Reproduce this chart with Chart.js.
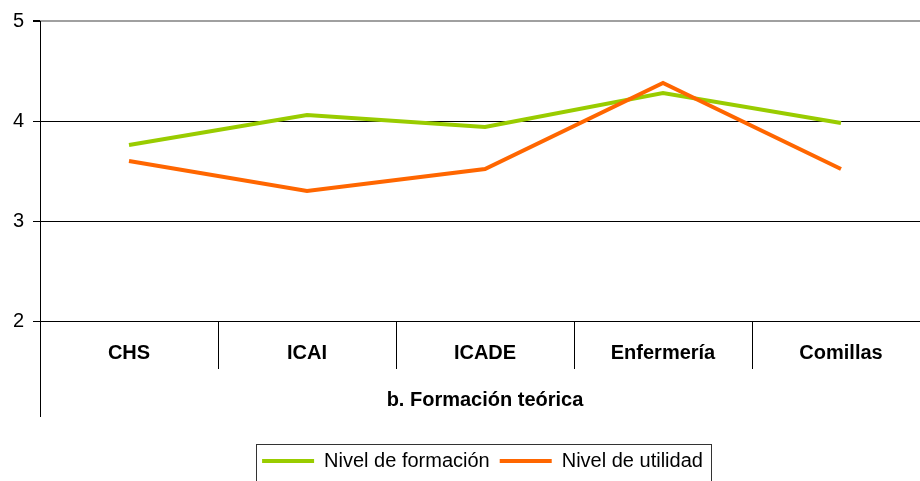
<!DOCTYPE html>
<html>
<head>
<meta charset="utf-8">
<script src="https://cdn.jsdelivr.net/npm/chart.js@4"></script>
<style>
  html, body { margin: 0; padding: 0; background: #fff; overflow: hidden; }
  #wrap { width: 965px; height: 481px; }
</style>
</head>
<body>
<div id="wrap"><canvas id="lineChart" width="965" height="481"></canvas></div>
<script>
// Datos
const categorias = ['CHS', 'ICAI', 'ICADE', 'Enfermería', 'Comillas'];
const nivelFormacion = [3.76, 4.06, 3.94, 4.28, 3.98];
const nivelUtilidad = [3.60, 3.30, 3.52, 4.38, 3.52];
const ticksY = [2, 3, 4, 5];
const tituloEjeX = 'b. Formación teórica';

// lineas extra: eje izquierdo alargado y marco de la leyenda
const extrasPlugin = {
  id: 'extras',
  afterDraw(chart) {
    const ctx = chart.ctx;
    const area = chart.chartArea;
    ctx.save();
    ctx.strokeStyle = '#000';
    ctx.lineWidth = 1;
    ctx.beginPath();
    ctx.moveTo(area.left + 0.5, area.top);
    ctx.lineTo(area.left + 0.5, 417);
    ctx.stroke();

    const boxes = chart.legend.legendHitBoxes;
    if (boxes && boxes.length) {
      const first = boxes[0];
      const last = boxes[boxes.length - 1];
      const left = Math.round(first.left - 6) + 0.5;
      const right = Math.round(last.left + last.width + 8) + 0.5;
      const top = Math.round(first.top - 7) + 0.5;
      ctx.strokeStyle = '#333';
      ctx.strokeRect(left, top, right - left, 60);
    }
    ctx.restore();
  }
};

const ctx = document.getElementById('lineChart').getContext('2d');
const myLineChart = new Chart(ctx, {
  type: 'line',
  data: {
    labels: categorias,
    datasets: [{
      label: 'Nivel de formación',
      data: nivelFormacion,
      borderColor: '#99cc00',
      backgroundColor: '#99cc00',
      borderWidth: 4,
      pointRadius: 0,
      tension: 0,
      order: 1
    }, {
      label: 'Nivel de utilidad',
      data: nivelUtilidad,
      borderColor: '#ff6600',
      backgroundColor: '#ff6600',
      borderWidth: 4,
      pointRadius: 0,
      tension: 0,
      order: 0
    }]
  },
  options: {
    responsive: false,
    animation: false,
    layout: { padding: { top: 21, right: 0, left: 0, bottom: 0 } },
    plugins: {
      tooltip: { enabled: false },
      legend: {
        position: 'bottom',
        labels: {
          color: '#000',
          font: { family: 'Arial, "Liberation Sans"', size: 20 },
          usePointStyle: true,
          pointStyle: 'line',
          pointStyleWidth: 52,
          padding: 10,
          sort: (a, b) => a.datasetIndex - b.datasetIndex
        }
      }
    },
    scales: {
      x: {
        offset: true,
        afterFit: function(scale) { scale.height = 120; },
        grid: {
          display: true,
          drawOnChartArea: false,
          offset: true,
          tickLength: 48,
          color: '#000'
        },
        border: { display: true, color: '#000', width: 1 },
        ticks: {
          color: '#000',
          padding: -28,
          maxRotation: 0,
          font: { family: 'Arial, "Liberation Sans"', size: 20, weight: 'bold' }
        },
        title: {
          display: true,
          text: tituloEjeX,
          color: '#000',
          padding: { top: 0, bottom: 29 },
          font: { family: 'Arial, "Liberation Sans"', size: 20, weight: 'bold' }
        }
      },
      y: {
        min: 2,
        max: 5,
        afterFit: function(scale) { scale.width = 40; },
        afterBuildTicks: function(scale) {
          scale.ticks = ticksY.map(v => ({ value: v }));
        },
        grid: {
          color: c => (c.tick && c.tick.value === 5) ? '#a0a0a0' : '#000',
          lineWidth: c => (c.tick && c.tick.value === 5) ? 2 : 1,
          tickColor: '#000',
          tickLength: 7
        },
        border: { display: false },
        ticks: {
          color: '#000',
          padding: 9,
          font: { family: 'Arial, "Liberation Sans"', size: 20 }
        }
      },
      // eje vacio a la derecha: deja el area del grafico en 930 px
      yDer: {
        position: 'right',
        afterFit: function(scale) { scale.width = 35; },
        grid: { display: false },
        border: { display: false },
        ticks: { display: false }
      }
    }
  },
  plugins: [extrasPlugin]
});
</script>
</body>
</html>
